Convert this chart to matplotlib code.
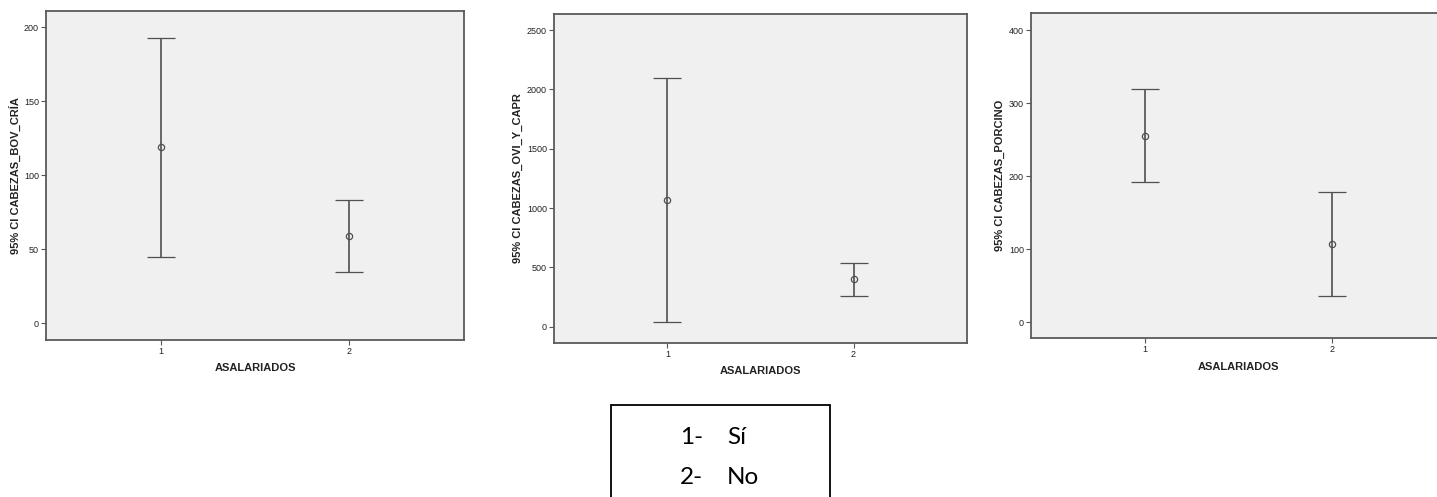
#!/usr/bin/env python3
"""95% CI error-bar panels (SPSS style) for CABEZAS by ASALARIADOS."""
import matplotlib
matplotlib.use("Agg")
import matplotlib.pyplot as plt
from matplotlib.patches import Rectangle

# data
groups = [1, 2]
labels = ["95% CI CABEZAS_BOV_CRÍA", "95% CI CABEZAS_OVI_Y_CAPR", "95% CI CABEZAS_PORCINO"]
bov_mean = [119, 59]
bov_low = [45, 34.5]
bov_high = [193, 83.5]
ovi_mean = [1068, 399]
ovi_low = [42, 261]
ovi_high = [2093, 534]
por_mean = [255, 107]
por_low = [191.6, 35.6]
por_high = [318.8, 178.3]
yticks_list = [[0, 50, 100, 150, 200], [0, 500, 1000, 1500, 2000, 2500], [0, 100, 200, 300, 400]]
ylims = [(-11.3, 211), (-135, 2635), (-21.9, 422.9)]
legend_lines = ["1-   Sí", "2-   No"]

W, H = 1437, 497
# axes frames in pixels: left, right, top, bottom
frames = [(46, 464, 11, 340), (554, 967, 14, 342.7), (1031, 1446, 13.3, 338.3)]
ylab_x = [15, 518, 1000]
xlab_y = [368, 370.7, 366.7]

plt.rcParams.update({
    'font.family': ['Liberation Sans', 'DejaVu Sans'],
    'axes.unicode_minus': False,
})

fig = plt.figure(figsize=(W / 100, H / 100), dpi=100)
fig.patch.set_facecolor('white')

series = [(bov_mean, bov_low, bov_high), (ovi_mean, ovi_low, ovi_high), (por_mean, por_low, por_high)]
line_col = '#505050'

for i, (mean, low, high) in enumerate(series):
    l, r, t, b = frames[i]
    ax = fig.add_axes([l / W, 1 - b / H, (r - l) / W, (b - t) / H])
    ax.set_facecolor('#f0f0f0')
    err = [[m - lo for m, lo in zip(mean, low)], [hi - m for m, hi in zip(mean, high)]]
    ax.errorbar(groups, mean, yerr=err, fmt='o', color=line_col, mfc='none', mec=line_col,
                ms=4.5, mew=0.9, elinewidth=1.2, capsize=10, capthick=1.2)
    ax.set_xlim(0.39, 2.61)
    ax.set_ylim(*ylims[i])
    ax.set_xticks(groups)
    ax.set_yticks(yticks_list[i])
    ax.tick_params(axis='both', labelsize=6.5, length=3.5, width=0.8, color='#555555',
                   labelcolor='#222222', pad=1.5)
    for sp in ax.spines.values():
        sp.set_color('#5a5a5a')
        sp.set_linewidth(1.3)
    ax.set_xlabel('ASALARIADOS', fontsize=8, fontweight='bold', color='#222222')
    ax.set_ylabel(labels[i], fontsize=8, fontweight='bold', color='#222222')
    ax.xaxis.set_label_coords(0.5, -(xlab_y[i] - b) / (b - t))
    ax.xaxis.label.set_va('center')
    ax.yaxis.set_label_coords((ylab_x[i] - l) / (r - l), 0.5)
    ax.yaxis.label.set_va('center')

# legend box with group codes (bottom edge falls outside the image)
bx0, bx1, by0, by1 = 611, 830, 405, 505
fig.patches.append(Rectangle((bx0 / W, 1 - by1 / H), (bx1 - bx0) / W, (by1 - by0) / H,
                             transform=fig.transFigure, fill=False, edgecolor='black', linewidth=1.3))
for txt, yc in zip(legend_lines, [437, 478]):
    code, word = txt.split('   ')
    fig.text(680 / W, 1 - yc / H, code, fontsize=17.5, family=['Lato', 'DejaVu Sans'], va='center', ha='left')
    fig.text(727 / W, 1 - yc / H, word, fontsize=17.5, family=['Lato', 'DejaVu Sans'], va='center', ha='left')

fig.savefig('out.png', dpi=100)
